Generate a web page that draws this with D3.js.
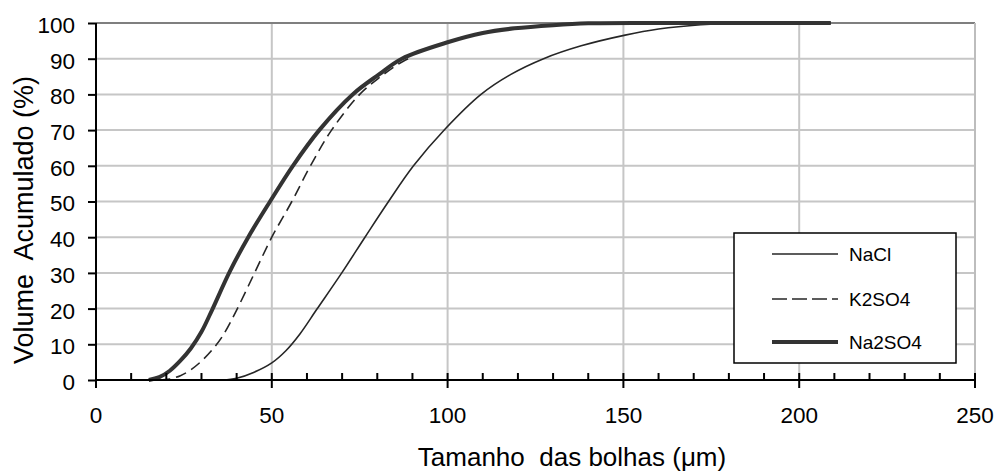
<!DOCTYPE html>
<html>
<head>
<meta charset="utf-8">
<script src="https://cdn.jsdelivr.net/npm/d3@7"></script>
<style>
  html, body { margin: 0; padding: 0; background: #fff; }
  svg { display: block; }
  text { font-family: "Liberation Sans", Arial, sans-serif; fill: #000; }
</style>
</head>
<body>
<svg id="chart" width="1000" height="473"></svg>
<script>
// ---- data ----
const seriesNames = ["NaCl", "K2SO4", "Na2SO4"];

const naclX = [36, 40, 45, 50, 54, 58, 62.8, 69.9, 76.5, 83.2, 90.3, 99.3, 109.5, 118, 127.3, 138, 150.5, 160, 172, 185, 209];
const naclY = [0, 0.5, 2.2, 4.8, 8.2, 12.9, 19.8, 30, 40, 50, 60, 70.3, 80, 85.6, 90, 93.6, 96.6, 98.3, 99.5, 100, 100];

const k2so4X = [18, 21, 24, 27, 30, 33, 36, 40, 45, 50, 55.7, 61, 67, 75, 81, 86, 90];
const k2so4Y = [0, 0.3, 1.2, 2.9, 5.3, 8.4, 12.3, 19.6, 29.8, 40, 50, 60, 70, 80, 85, 88.5, 90.6];

const na2so4X = [15, 18, 21, 24, 27, 30, 33, 38, 43.3, 49.5, 56, 63.5, 73, 80.5, 87, 100, 110, 119, 130, 140, 160, 180, 209];
const na2so4Y = [0, 0.8, 2.6, 5.4, 8.9, 13.5, 19.6, 30.3, 40, 50, 60, 70, 80, 85.6, 90, 94.6, 97.2, 98.5, 99.4, 99.9, 100, 100, 100];

const xTicks = [0, 50, 100, 150, 200, 250];
const xMinorTicks = d3.range(0, 251, 10);
const yTicks = [0, 10, 20, 30, 40, 50, 60, 70, 80, 90, 100];

const xTitle = "Tamanho  das bolhas (\u03bcm)";
const yTitle = "Volume  Acumulado (%)";

// ---- layout ----
const svg = d3.select("#chart");
const x = d3.scaleLinear().domain([0, 250]).range([96, 975]);
const y = d3.scaleLinear().domain([0, 100]).range([380, 23]);

const gridColor = "#c6c6c6";

// horizontal gridlines
svg.append("g").selectAll("line").data(yTicks.filter(d => d > 0 && d < 100)).join("line")
  .attr("x1", x(0)).attr("x2", x(250))
  .attr("y1", d => y(d)).attr("y2", d => y(d))
  .attr("stroke", gridColor).attr("stroke-width", 2);

// vertical gridlines
svg.append("g").selectAll("line").data(xTicks.filter(d => d > 0 && d < 250)).join("line")
  .attr("x1", d => x(d)).attr("x2", d => x(d))
  .attr("y1", y(0)).attr("y2", y(100))
  .attr("stroke", gridColor).attr("stroke-width", 2);

// top border
svg.append("line").attr("x1", x(0)).attr("x2", x(250)).attr("y1", y(100)).attr("y2", y(100))
  .attr("stroke", "#7f7f7f").attr("stroke-width", 2);
// right border at 250
svg.append("line").attr("x1", x(250)).attr("x2", x(250)).attr("y1", y(0)).attr("y2", y(100))
  .attr("stroke", "#bdbdbd").attr("stroke-width", 2);

// series
const line = d3.line().x(d => x(d[0])).y(d => y(d[1])).curve(d3.curveCatmullRom.alpha(0.5));
const series = [
  { name: seriesNames[0], xs: naclX, ys: naclY, width: 1.6, dash: null, color: "#262626" },
  { name: seriesNames[1], xs: k2so4X, ys: k2so4Y, width: 1.6, dash: "11,6", color: "#262626" },
  { name: seriesNames[2], xs: na2so4X, ys: na2so4Y, width: 4, dash: null, color: "#333333" }
];
series.forEach(s => {
  svg.append("path")
    .datum(s.xs.map((v, i) => [v, s.ys[i]]))
    .attr("d", line)
    .attr("fill", "none")
    .attr("stroke", s.color)
    .attr("stroke-width", s.width)
    .attr("stroke-dasharray", s.dash);
});

// y axis
const yAxis = d3.axisLeft(y).tickValues(yTicks).tickSize(8).tickPadding(13);
const gy = svg.append("g").attr("transform", `translate(${x(0)},0)`).call(yAxis);
gy.select(".domain").attr("stroke", "#000").attr("stroke-width", 2).attr("d", `M0,${y(0)}V${y(100)}`);
gy.selectAll(".tick line").attr("stroke", "#000").attr("stroke-width", 2);
gy.selectAll(".tick text").attr("font-size", 22.5).attr("font-family", "Liberation Sans, Arial, sans-serif")
  .attr("dy", "0.42em");

// x axis: major ticks crossing, minor ticks inside
const gx = svg.append("g").attr("transform", `translate(0,${y(0)})`);
gx.append("line").attr("x1", x(0)).attr("x2", x(250)).attr("stroke", "#000").attr("stroke-width", 2);
gx.selectAll(".minor").data(xMinorTicks.filter(d => d % 50 !== 0)).join("line")
  .attr("class", "minor")
  .attr("x1", d => x(d)).attr("x2", d => x(d)).attr("y1", 0).attr("y2", -7)
  .attr("stroke", "#000").attr("stroke-width", 2);
gx.selectAll(".major").data(xTicks).join("line")
  .attr("class", "major")
  .attr("x1", d => x(d)).attr("x2", d => x(d)).attr("y1", d => d === 0 ? 0 : -7).attr("y2", 8)
  .attr("stroke", "#000").attr("stroke-width", 2);
gx.selectAll(".lbl").data(xTicks).join("text")
  .attr("class", "lbl")
  .attr("x", d => x(d)).attr("y", 43)
  .attr("text-anchor", "middle").attr("font-size", 22.5)
  .text(d => d);

// titles
svg.append("text").attr("x", 572).attr("y", 466).attr("text-anchor", "middle")
  .attr("font-size", 26).style("white-space", "pre").text(xTitle);
svg.append("text").attr("transform", "translate(33,220) rotate(-90)").attr("text-anchor", "middle")
  .attr("font-size", 27).style("white-space", "pre").text(yTitle);

// legend
const lg = svg.append("g");
lg.append("rect").attr("x", 734).attr("y", 233).attr("width", 222).attr("height", 130)
  .attr("fill", "#fff").attr("stroke", "#000").attr("stroke-width", 1.5);
const legendY = [254, 299, 342];
series.forEach((s, i) => {
  lg.append("line").attr("x1", 772).attr("x2", 838).attr("y1", legendY[i]).attr("y2", legendY[i])
    .attr("stroke", s.color).attr("stroke-width", s.width).attr("stroke-dasharray", s.dash ? "15,5" : null);
  lg.append("text").attr("x", 849).attr("y", legendY[i] + 7).attr("font-size", 19).text(s.name);
});
</script>
</body>
</html>
